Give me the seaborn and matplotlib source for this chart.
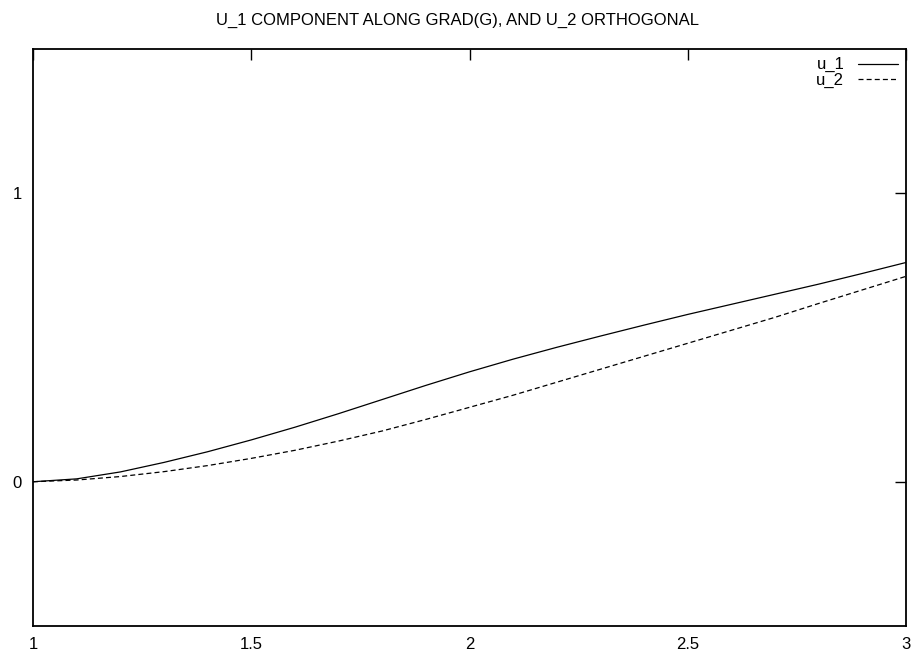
import numpy as np
import pandas as pd
import matplotlib
matplotlib.use("Agg")
import matplotlib.pyplot as plt
import seaborn as sns

# values
x_vals = [1.0, 1.1, 1.2, 1.3, 1.4, 1.5, 1.6, 1.7, 1.8, 1.9, 2.0,
          2.1, 2.2, 2.3, 2.4, 2.5, 2.6, 2.7, 2.8, 2.9, 3.0]
u_1 = [0.000, 0.010, 0.034, 0.067, 0.104, 0.145, 0.189, 0.236, 0.285, 0.334, 0.381,
       0.425, 0.466, 0.505, 0.543, 0.580, 0.615, 0.650, 0.685, 0.722, 0.760]
u_2 = [0.000, 0.006, 0.018, 0.035, 0.056, 0.081, 0.109, 0.141, 0.176, 0.216, 0.258,
       0.300, 0.345, 0.390, 0.435, 0.480, 0.525, 0.570, 0.618, 0.665, 0.712]
x_ticks = [1, 1.5, 2, 2.5, 3]
x_labels = ["1", "1.5", "2", "2.5", "3"]
y_ticks = [0, 1]
y_labels = ["0", "1"]
title = "U_1 COMPONENT ALONG GRAD(G), AND U_2 ORTHOGONAL"

sns.set_style("white")
plt.rcParams['font.family'] = ['Liberation Sans', 'DejaVu Sans']
plt.rcParams['text.color'] = 'black'

df = pd.DataFrame({"x": x_vals * 2,
                   "y": u_1 + u_2,
                   "series": ["u_1"] * len(x_vals) + ["u_2"] * len(x_vals)})

fig = plt.figure(figsize=(9.16, 6.56), dpi=100)
ax = fig.add_axes([33 / 916, 30 / 656, 873 / 916, 577 / 656])

sns.lineplot(data=df, x="x", y="y", hue="series", style="series",
             palette=["black", "black"], dashes=[(None, None), (4, 2.5)],
             linewidth=0.9, ax=ax, legend=False)

lines = ax.get_lines()
ax.legend(lines[:2], ["u_1", "u_2"], loc="upper right", frameon=False,
          markerfirst=False, fontsize=12, handlelength=2.4, handletextpad=0.8,
          labelspacing=0.0, borderaxespad=0.2, borderpad=0.3)

ax.set_xlim(1, 3)
ax.set_ylim(-0.5, 1.5)
ax.set_xticks(x_ticks)
ax.set_xticklabels(x_labels)
ax.set_yticks(y_ticks)
ax.set_yticklabels(y_labels)
ax.set_xlabel("")
ax.set_ylabel("")
ax.tick_params(direction="in", length=8, width=1, top=True, right=True,
               labelsize=12, pad=8, colors="black")
for s in ax.spines.values():
    s.set_linewidth(1.3)
    s.set_color("black")

fig.text(0.5, 1 - 20 / 656, title, ha="center", va="center", fontsize=12,
         color="black")

fig.savefig("out.png", dpi=100)
